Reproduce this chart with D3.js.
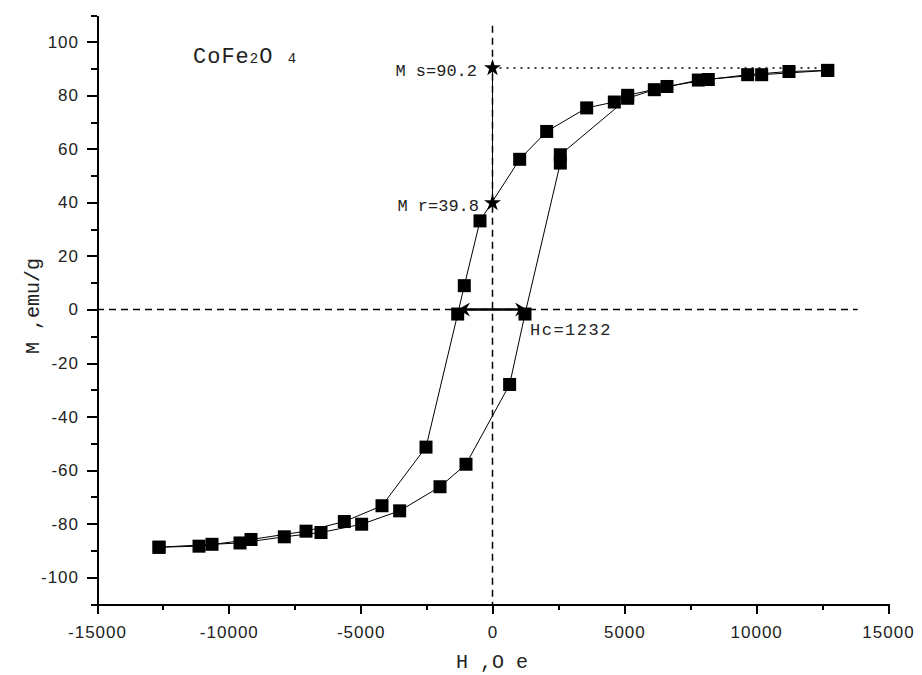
<!DOCTYPE html>
<meta charset="utf-8">
<style>
  body { margin: 0; background: #fff; }
  svg { font-family: "DejaVu Sans", sans-serif; }
  .axis path, .axis line { fill: none; stroke: #000; stroke-width: 2px; shape-rendering: crispEdges; }
  .axis text { font-size: 17px; letter-spacing: 1px; fill: #222; }
  .mono { font-family: "Courier New", "Liberation Mono", monospace; fill: #222; }
</style>
<body>
<script src="https://cdn.jsdelivr.net/npm/d3@7"></script>
<script>

// descending branch (from +H max to -H max)
var descH = [12713, 11245, 9678, 8185, 6618, 5127, 4620, 3572, 2055, 1031, -474, -1070, -1320, -2522, -4191, -5620, -7073, -9159, -11131, -12648];
var descM = [89.3, 88.9, 87.7, 85.9, 83.3, 80.0, 77.5, 75.3, 66.5, 56.1, 33.1, 8.9, -1.7, -51.4, -73.3, -79.2, -82.8, -85.9, -88.4, -88.8];

// ascending branch (from -H max back to +H max)
var ascH = [-12648, -10638, -9576, -7896, -6504, -4962, -3521, -1991, -1005, 650, 1232, 2572, 2572, 5127, 6137, 7806, 10209, 12713];
var ascM = [-88.8, -87.7, -87.2, -84.9, -83.3, -80.2, -75.2, -66.2, -57.8, -28.0, -1.7, 54.7, 57.8, 78.9, 82.1, 85.7, 87.7, 89.3];

var xTicks = [-15000, -10000, -5000, 0, 5000, 10000, 15000];
var xMinor = [-12500, -7500, -2500, 2500, 7500, 12500];
var yTicks = [-100, -80, -60, -40, -20, 0, 20, 40, 60, 80, 100];
var yMinor = [-110, -90, -70, -50, -30, -10, 10, 30, 50, 70, 90, 110];

var Ms = 90.2, Mr = 39.8, Hc = 1232;

var width = 922, height = 675;

var x = d3.scaleLinear().domain([-15000, 15000]).range([97, 888]);
var y = d3.scaleLinear().domain([-110, 110]).range([604, 15]);

var svg = d3.select("body").append("svg")
    .attr("width", width)
    .attr("height", height);

var defs = svg.append("defs");
defs.append("marker")
    .attr("id", "head")
    .attr("viewBox", "0 -7 12 14")
    .attr("refX", 10).attr("refY", 0)
    .attr("markerWidth", 12).attr("markerHeight", 14)
    .attr("markerUnits", "userSpaceOnUse")
    .attr("orient", "auto-start-reverse")
    .append("path")
    .attr("d", "M0,-7L12,0L0,7L4,0Z")
    .attr("fill", "#000");

// reference lines
svg.append("line")
    .attr("x1", x(0)).attr("x2", x(0))
    .attr("y1", y(106)).attr("y2", y(-110))
    .attr("stroke", "#000").attr("stroke-width", 1.5)
    .attr("stroke-dasharray", "7,5");

svg.append("line")
    .attr("x1", x(-15000)).attr("x2", x(13850))
    .attr("y1", y(0)).attr("y2", y(0))
    .attr("stroke", "#000").attr("stroke-width", 1.5)
    .attr("stroke-dasharray", "7,5");

svg.append("line")
    .attr("x1", x(0)).attr("x2", x(12300))
    .attr("y1", y(Ms)).attr("y2", y(Ms))
    .attr("stroke", "#000").attr("stroke-width", 1.5)
    .attr("stroke-dasharray", "2,5");

svg.append("line")
    .attr("x1", x(0)).attr("x2", x(0))
    .attr("y1", y(Ms)).attr("y2", y(Mr))
    .attr("stroke", "#000").attr("stroke-width", 1);

// axes
svg.append("g")
    .attr("class", "axis")
    .attr("transform", "translate(0," + y(-110) + ")")
    .call(d3.axisBottom(x).tickValues(xTicks).tickSize(10).tickSizeOuter(0).tickPadding(12)
        .tickFormat(function (d) { return String(d); }));
svg.append("g")
    .attr("class", "axis")
    .attr("transform", "translate(0," + y(-110) + ")")
    .call(d3.axisBottom(x).tickValues(xMinor).tickSize(6).tickSizeOuter(0).tickFormat(""));

svg.append("g")
    .attr("class", "axis")
    .attr("transform", "translate(" + x(-15000) + ",0)")
    .call(d3.axisLeft(y).tickValues(yTicks).tickSize(10).tickSizeOuter(0).tickPadding(8)
        .tickFormat(function (d) { return String(d); }));
svg.append("g")
    .attr("class", "axis")
    .attr("transform", "translate(" + x(-15000) + ",0)")
    .call(d3.axisLeft(y).tickValues(yMinor).tickSize(6).tickSizeOuter(0).tickFormat(""));

// loop lines
var line = d3.line()
    .x(function (d) { return x(d[0]); })
    .y(function (d) { return y(d[1]); });

var desc = descH.map(function (h, i) { return [h, descM[i]]; });
var asc = ascH.map(function (h, i) { return [h, ascM[i]]; });

[desc, asc].forEach(function (s) {
    svg.append("path")
        .datum(s)
        .attr("fill", "none")
        .attr("stroke", "#000")
        .attr("stroke-width", 1)
        .attr("d", line);
});

// squares
svg.selectAll(".pt")
    .data(desc.concat(asc))
    .enter().append("rect")
    .attr("class", "pt")
    .attr("x", function (d) { return x(d[0]) - 6.5; })
    .attr("y", function (d) { return y(d[1]) - 6.5; })
    .attr("width", 13).attr("height", 13)
    .attr("fill", "#000");

// Hc arrow
svg.append("line")
    .attr("x1", x(-Hc)).attr("x2", x(Hc))
    .attr("y1", y(0)).attr("y2", y(0))
    .attr("stroke", "#000").attr("stroke-width", 2.5)
    .attr("marker-start", "url(#head)")
    .attr("marker-end", "url(#head)");

// stars
svg.selectAll(".star")
    .data([Ms, Mr])
    .enter().append("path")
    .attr("class", "star")
    .attr("transform", function (d) { return "translate(" + x(0) + "," + y(d) + ")"; })
    .attr("d", d3.symbol().type(d3.symbolStar).size(90))
    .attr("fill", "#000");

// annotations
svg.append("text").attr("class", "mono")
    .attr("x", 477).attr("y", y(Ms) + 8)
    .attr("text-anchor", "end")
    .style("font-size", "17px")
    .text("M s=90.2");

svg.append("text").attr("class", "mono")
    .attr("x", 479).attr("y", y(Mr) + 8)
    .attr("text-anchor", "end")
    .style("font-size", "17px")
    .text("M r=39.8");

svg.append("text").attr("class", "mono")
    .attr("x", 530).attr("y", y(0) + 25)
    .style("font-size", "17px")
    .style("letter-spacing", "1.5px")
    .text("Hc=1232");

var t = svg.append("text").attr("class", "mono")
    .attr("x", 193).attr("y", 63)
    .style("font-size", "22px")
    .style("letter-spacing", "1px");
t.append("tspan").text("CoFe");
t.append("tspan").style("font-size", "14px").text("2");
t.append("tspan").text("O ");
t.append("tspan").style("font-size", "14px").text("4");

// axis titles
svg.append("text").attr("class", "mono")
    .attr("x", 492).attr("y", 668)
    .attr("text-anchor", "middle")
    .style("font-size", "20px")
    .text("H ,O e");

svg.append("text").attr("class", "mono")
    .attr("transform", "translate(39,306) rotate(-90)")
    .attr("text-anchor", "middle")
    .style("font-size", "20px")
    .text("M ,emu/g");

</script>
